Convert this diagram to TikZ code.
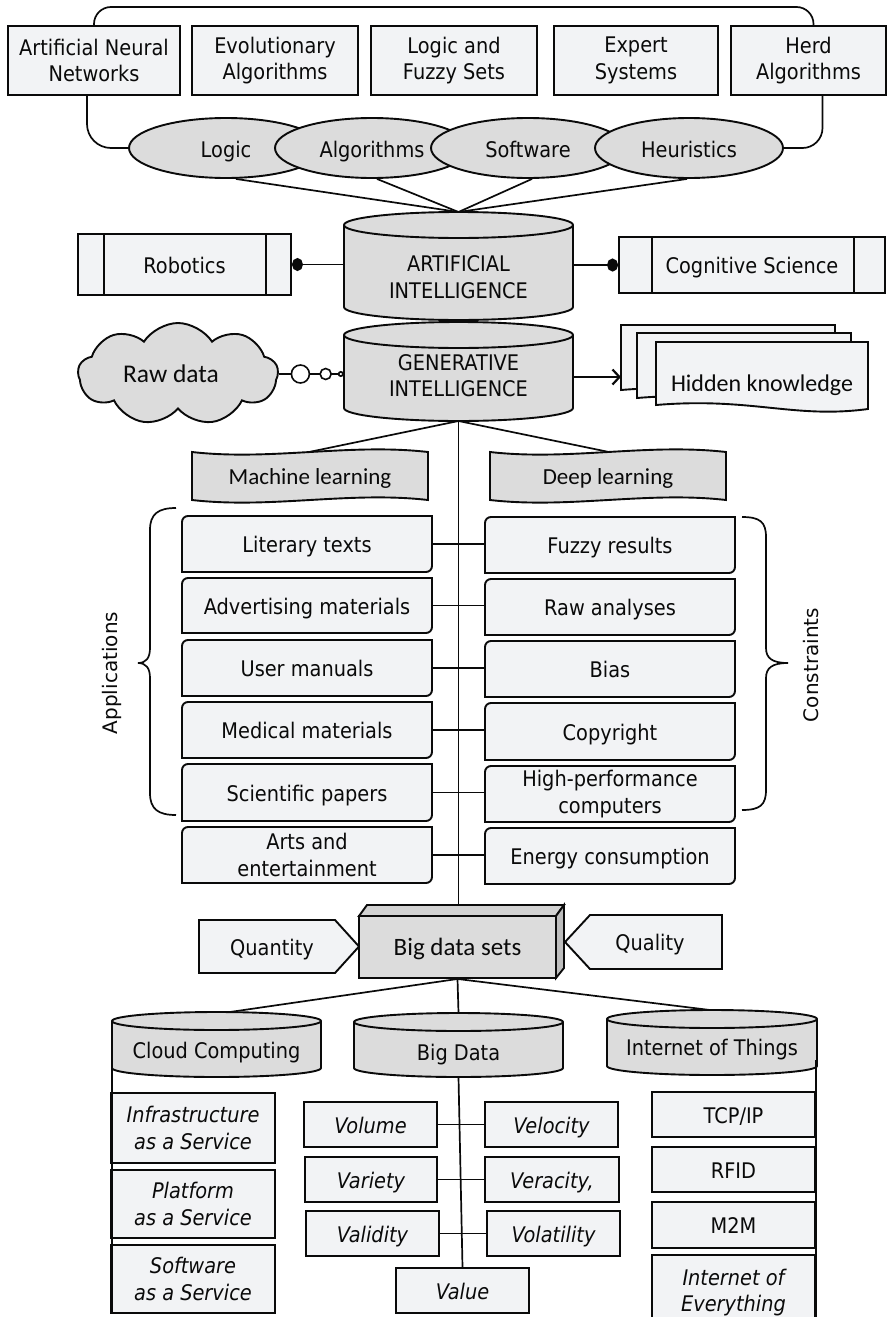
\documentclass[tikz,border=0pt]{standalone}
\usepackage{fontspec}
\setmainfont{DejaVu Sans}[FakeStretch=0.9]
\newfontfamily\calfont{Carlito}
\newfontfamily\widefont{DejaVu Sans}
\usetikzlibrary{arrows.meta,shapes.geometric,shapes.symbols,calc}
\definecolor{lightfill}{HTML}{F2F3F5}
\definecolor{grayfill}{HTML}{DCDCDC}
\definecolor{topfill}{HTML}{D2D2D2}
\definecolor{sidefill}{HTML}{BDBDBD}
\definecolor{ink}{HTML}{0A0A0A}
\tikzset{
  base/.style={font=\fontsize{21.5}{26.5}\selectfont, text=ink, align=center, inner sep=0pt},
  one/.style={text height=21pt, text depth=4pt},
  lbox/.style={base, draw=ink, line width=1.9pt, fill=lightfill},
  itbox/.style={lbox, font=\fontsize{21.5}{26.5}\selectfont\itshape},
  bare/.style={base},
  gshape/.style={draw=ink, line width=1.9pt, fill=grayfill},
  lshape/.style={draw=ink, line width=1.9pt, fill=lightfill},
  conn/.style={draw=ink, line width=1.7pt},
  ell/.style={base, ellipse, draw=ink, line width=1.9pt, fill=grayfill, minimum height=60, text height=23pt, text depth=4pt},
}
\newcommand{\calt}[1]{\calfont\fontsize{#1}{#1}\selectfont}
\newcommand{\mkbox}[7]{\node[#1, minimum width={(#5)-(#3)}, minimum height={(#6)-(#4)}] (#2) at ({((#3)+(#5))/2},{-((#4)+(#6))/2}) {#7};}
\newcommand{\mkcard}[7]{%
  \path[lshape] (#3,-#6) -- (#3,{-(#4)-6}) arc[start angle=180,end angle=90,radius=6] -- (#5,-#4) -- (#5,{-(#6)+6}) arc[start angle=0,end angle=-90,radius=6] -- cycle;
  \node[bare, #1, minimum width={(#5)-(#3)}, minimum height={(#6)-(#4)}] (#2) at ({((#3)+(#5))/2},{-((#4)+(#6))/2}) {#7};}
\newcommand{\mkcyl}[5]{%
  \path[gshape] (#1,{-(#2)-(#5)}) -- (#1,{-(#4)+(#5)}) arc[start angle=180,end angle=360,x radius={((#3)-(#1))/2},y radius=#5] -- (#3,{-(#2)-(#5)}) arc[start angle=0,end angle=180,x radius={((#3)-(#1))/2},y radius=#5] -- cycle;
  \draw[draw=ink,line width=1.9pt] (#1,{-(#2)-(#5)}) arc[start angle=180,end angle=360,x radius={((#3)-(#1))/2},y radius=#5];}
\newcommand{\mktape}[6]{%
  \path[gshape] (#2,-#3) .. controls ({(#2)+((#4)-(#2))/3},{-(#3)-9}) and ({(#2)+2*((#4)-(#2))/3},{-(#3)+9}) .. (#4,-#3) -- (#4,-#5) .. controls ({(#2)+2*((#4)-(#2))/3},{-(#5)+9}) and ({(#2)+((#4)-(#2))/3},{-(#5)-9}) .. (#2,-#5) -- cycle;
  \node[bare, one, minimum width={(#4)-(#2)}, minimum height={(#5)-(#3)}] (#1) at ({((#2)+(#4))/2},{-((#3)+(#5))/2}) {#6};}
\newcommand{\mkdoc}[4]{%
  \path[lshape] (#1,-#2) -- (#3,-#2) -- (#3,{-(#4)-4}) .. controls ({(#3)-0.35*((#3)-(#1))},{-(#4)-14}) and ({(#1)+0.45*((#3)-(#1))},{-(#4)+8}) .. (#1,-#4) -- cycle;}
\begin{document}
\begin{tikzpicture}[x=1pt,y=1pt]
\useasboundingbox (0,0) rectangle (887,-1317);
\clip (0,0) rectangle (887,-1317);
% ---------- top row
\mkbox{lbox}{ann}{8}{26}{180}{95}{Artificial Neural\\Networks}
\mkbox{lbox}{evo}{192}{26}{358}{95}{Evolutionary\\Algorithms}
\mkbox{lbox}{lfs}{371}{26}{537}{95}{Logic and\\Fuzzy Sets}
\mkbox{lbox}{exps}{554}{26}{718}{95}{Expert\\Systems}
\mkbox{lbox}{herd}{731}{26}{886}{95}{Herd\\Algorithms}
\coordinate (archy) at (0,-7);
\coordinate (herdtop) at ([xshift=5pt]herd.north);
\draw[conn, rounded corners=17pt] (ann.north) |- (archy -| herdtop) -- (herdtop);
% ---------- cylinders AI / GI
\mkcyl{344}{212}{573}{320}{13}
\mkcyl{344}{322}{573}{421}{13}
\coordinate (aitop) at (458.5,-212);
\coordinate (gibot) at (458.5,-421);
\node[bare, minimum width=229, minimum height=60] (ai) at (458.5,-277) {ARTIFICIAL\\INTELLIGENCE};
\node[bare, minimum width=229, minimum height=60] (gi) at (458.5,-375.5) {GENERATIVE\\INTELLIGENCE};
% ---------- ellipses
\node[ell, minimum width=194] (logic) at (226,-148) {Logic};
\node[ell, minimum width=194] (alg) at (372,-148) {Algorithms};
\node[ell, minimum width=194] (soft) at (528,-148) {Software};
\node[ell, minimum width=188] (heur) at (689,-148) {Heuristics};
\draw[conn, rounded corners=24pt] ([xshift=-7pt]ann.south) |- (logic.west);
\draw[conn, rounded corners=20pt] (heur.east) -| ([xshift=14pt]herd.south);
\draw[conn] ([xshift=10pt]logic.south) -- (aitop);
\draw[conn] ([xshift=5pt]alg.south) -- (aitop);
\draw[conn] ([xshift=4pt]soft.south) -- (aitop);
\draw[conn] ([xshift=-2pt]heur.south) -- (aitop);
% ---------- robotics / cognitive science
\mkbox{lbox,one}{rob}{78}{234}{291}{295}{Robotics}
\draw[conn] ([xshift=27pt]rob.north west) -- ([xshift=27pt]rob.south west);
\draw[conn] ([xshift=-26pt]rob.north east) -- ([xshift=-26pt]rob.south east);
\mkbox{lbox,one}{cog}{619}{237}{885}{293}{Cognitive Science}
\draw[conn] ([xshift=34pt]cog.north west) -- ([xshift=34pt]cog.south west);
\draw[conn] ([xshift=-32pt]cog.north east) -- ([xshift=-32pt]cog.south east);
\draw[conn, {Circle[length=11pt,width=13pt]}-] (rob.east) -- (rob.east -| ai.west);
\draw[conn, -{Circle[length=11pt,width=13pt]}] (ai.east |- cog.west) -- (cog.west);
% ---------- raw data
\node[base, cloud, cloud puffs=9, cloud puff arc=115, aspect=2.0, draw=ink, line width=1.9pt, fill=grayfill, minimum width=200, minimum height=100] (raw) at (178,-374) {\calt{25.5}Raw data\hspace*{14pt}};
\draw[conn, -{Circle[open,length=6pt,width=6pt]}] (raw.east) -- (raw.east -| gi.west)
   node[pos=0.33, circle, draw=ink, line width=1.6pt, fill=white, minimum size=18, inner sep=0] (c1) {}
   node[pos=0.72, circle, draw=ink, line width=1.6pt, fill=white, minimum size=11, inner sep=0] (c2) {};
% ---------- hidden knowledge
\mkdoc{621}{325}{835}{390}
\mkdoc{637}{333}{851}{398}
\mkdoc{656}{342}{868}{405}
\node[bare, one] (hk) at (762,-383) {\calt{24}Hidden knowledge};
\coordinate (hkback) at (621,-377);
\draw[conn, line width=2.2pt, -{Straight Barb[length=7pt,width=15pt]}] (gi.east |- hkback) -- (hkback);
% ---------- trunk and learning
\coordinate (bdstop) at (458.5,-905);
\draw[conn] (gibot) -- (bdstop);
\mktape{ml}{192}{452}{428}{500}{\calt{23}Machine learning}
\mktape{dl}{490}{452}{726}{500}{\calt{23}Deep learning}
\draw[conn] (gibot) -- (ml.north);
\draw[conn] (gibot) -- (dl.north);
% ---------- applications / constraints
\mkcard{one}{lit}{182}{516}{432}{572}{Literary texts}
\mkcard{one}{adv}{182}{578}{432}{633}{Advertising materials}
\mkcard{one}{usr}{182}{640}{432}{696}{User manuals}
\mkcard{one}{med}{182}{702}{432}{758}{Medical materials}
\mkcard{one}{sci}{182}{764}{432}{821}{Scientific papers}
\mkcard{}{art}{182}{827}{432}{883}{Arts and\\entertainment}
\mkcard{one}{fuz}{485}{517}{735}{573}{Fuzzy results}
\mkcard{one}{rawan}{485}{579}{735}{635}{Raw analyses}
\mkcard{one}{bias}{485}{641}{735}{697}{Bias}
\mkcard{one}{copy}{485}{703}{735}{760}{Copyright}
\mkcard{}{hpc}{485}{766}{735}{822}{High-performance\\computers}
\mkcard{one}{energy}{485}{828}{735}{884}{Energy consumption}
\draw[conn] (lit.east) -- (lit.east -| fuz.west);
\draw[conn] (adv.east) -- (adv.east -| rawan.west);
\draw[conn] (usr.east) -- (usr.east -| bias.west);
\draw[conn] (med.east) -- (med.east -| copy.west);
\draw[conn] (sci.east) -- (sci.east -| hpc.west);
\draw[conn] (art.east) -- (art.east -| energy.west);
\draw[conn] (176,-508) .. controls (158,-508) and (150,-514) .. (150,-530) -- (150,-648) .. controls (150,-658) and (146,-663) .. (138,-663) .. controls (146,-663) and (150,-668) .. (150,-678) -- (150,-793) .. controls (150,-809) and (158,-815) .. (176,-815);
\draw[conn] (742,-517) .. controls (760,-517) and (766,-522) .. (766,-537) -- (766,-648) .. controls (766,-658) and (772,-663) .. (788,-663) .. controls (772,-663) and (766,-668) .. (766,-678) -- (766,-790) .. controls (766,-805) and (760,-810) .. (742,-810);
\node[base, rotate=90, font=\widefont\fontsize{20}{24}\selectfont] (apps) at (112,-673) {Applications};
\node[base, rotate=90, font=\widefont\fontsize{20}{24}\selectfont] (cons) at (811,-665) {Constraints};
% ---------- big data sets
\path[lshape] (199,-920) -- (335,-920) -- (359,-946.5) -- (335,-973) -- (199,-973) -- cycle;
\path[lshape] (722,-915) -- (590,-915) -- (565,-942) -- (590,-969) -- (722,-969) -- cycle;
\node[bare, one] (qty) at (272,-946.5) {Quantity};
\node[bare, one] (qual) at (650,-942) {Quality};
\path[draw=ink, line width=1.9pt, fill=topfill] (359,-916) -- (367,-905) -- (564,-905) -- (556,-916) -- cycle;
\path[draw=ink, line width=1.9pt, fill=sidefill] (556,-916) -- (564,-905) -- (564,-968) -- (556,-978) -- cycle;
\mkbox{lbox, one, fill=grayfill}{bds}{359}{916}{556}{978}{\calt{25}Big data sets}
% ---------- lower cylinders
\coordinate (cctop) at (223,-1013);
\coordinate (bdtop) at (458.5,-1013);
\coordinate (iottop) at (710,-1010);
\draw[conn] (bds.south) -- (cctop);
\draw[conn] (bds.south) -- (bdtop);
\draw[conn] (bds.south) -- (iottop);
\mkcyl{112}{1012}{321}{1077}{9}
\mkcyl{354}{1013}{563}{1077}{9}
\mkcyl{607}{1010}{817}{1075}{9}
\node[bare, one] (cc) at (216.5,-1050) {Cloud Computing};
\node[bare, one] (bd) at (458.5,-1052) {Big Data};
\node[bare, one] (iot) at (712,-1047) {Internet of Things};
% cloud computing column
\coordinate (ccside) at (112,-1062);
\mkbox{itbox}{iaas}{111}{1093}{275}{1163}{Infrastructure\\as a Service}
\mkbox{itbox}{paas}{111}{1170}{275}{1238}{Platform\\as a Service}
\mkbox{itbox}{saas}{111}{1245}{275}{1313}{Software\\as a Service}
\draw[conn] (ccside) -- (ccside |- saas.south);
% big data column
\coordinate (bdbot) at (458.5,-1077);
\mkbox{itbox,one}{vol}{304}{1102}{437}{1147}{Volume}
\mkbox{itbox,one}{vel}{485}{1102}{618}{1147}{Velocity}
\mkbox{itbox,one}{var}{305}{1157}{437}{1202}{Variety}
\mkbox{itbox,one}{ver}{485}{1157}{619}{1202}{Veracity,}
\mkbox{itbox,one}{vali}{306}{1211}{439}{1256}{Validity}
\mkbox{itbox,one}{vola}{487}{1211}{620}{1256}{Volatility}
\mkbox{itbox,one}{value}{396}{1268}{529}{1313}{Value}
\draw[conn] (bdbot) -- (value.north);
\draw[conn] (vol.east) -- (vol.east -| vel.west);
\draw[conn] (var.east) -- (var.east -| ver.west);
\draw[conn] (vali.east) -- (vali.east -| vola.west);
% iot column
\coordinate (iotside) at (816,-1060);
\coordinate (iotend) at (816,-1320);
\draw[conn] (iotside) -- (iotend);
\mkbox{lbox,one}{tcp}{652}{1092}{815}{1137}{TCP/IP}
\mkbox{lbox,one}{rfid}{652}{1147}{815}{1192}{RFID}
\mkbox{lbox,one}{mtm}{652}{1202}{815}{1248}{M2M}
\mkbox{itbox}{ioe}{652}{1255}{815}{1330}{Internet of\\Everything}
\end{tikzpicture}
\end{document}
